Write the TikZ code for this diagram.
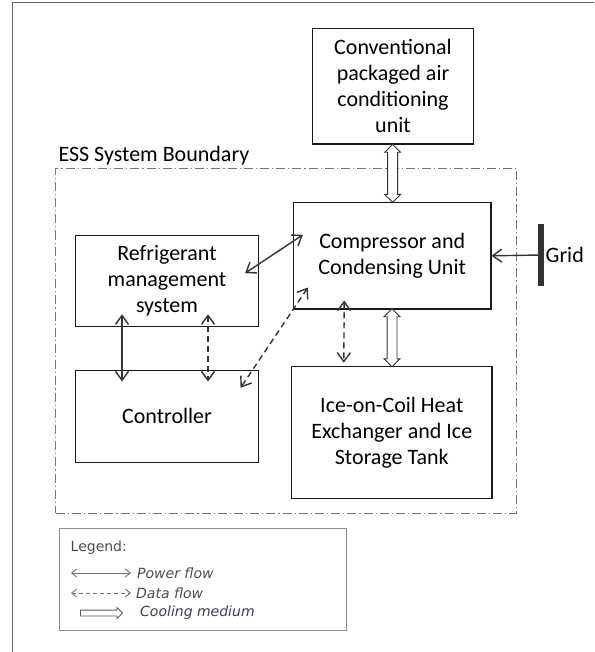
\documentclass[tikz,border=0pt]{standalone}
\usepackage{fontspec}
\setmainfont{Carlito}
\newfontfamily\legendfont{DejaVu Sans}
\usetikzlibrary{arrows.meta,calc,shapes.arrows}
\definecolor{coolink}{RGB}{55,58,95}

\begin{document}
\begin{tikzpicture}[x=1pt,y=-1pt]
\tikzset{box/.style={draw=black!90, line width=1.1pt, align=center, inner sep=0pt, font=\fontsize{22}{26}\selectfont},
	flow/.style={draw=black!80, line width=1.4pt, >={Straight Barb[length=9pt,width=13pt]}},
	power/.style={flow, <->},
	data/.style={power, dash pattern=on 6pt off 4pt},
	cool/.style={double arrow, draw=black!80, line width=0.9pt, fill=white, inner xsep=0pt, inner ysep=4.5pt,
		double arrow head extend=3pt, minimum height=58pt, rotate=90},
	legtext/.style={anchor=west, inner sep=0pt, text=black!70, font=\legendfont\fontsize{14}{16}\selectfont},
	legarrow/.style={draw=black!55, line width=0.9pt, >={Straight Barb[length=5pt,width=8pt]}, <->}}
\useasboundingbox (0,0) rectangle (594,652);
% outer frame
\draw[black!60, line width=1.5pt] (12.3,652) -- (12.3,2.7) -- (594,2.7);

% system boundary
\node[draw=black!55, line width=0.8pt, dash pattern=on 9pt off 3pt on 1.2pt off 3pt,
	minimum width=460.6pt, minimum height=345pt, inner sep=0pt] (ess) at (286,340.8) {};
\node[anchor=base west, inner sep=0pt, font=\fontsize{22}{26}\selectfont] (esslabel)
	at ($(ess.north west)+(3,-6)$) {ESS System Boundary};

% blocks
\node[box, minimum width=161pt, minimum height=115.7pt] (conv) at (393,86.2)
	{Conventional\\packaged air\\conditioning\\unit};
\node[box, minimum width=197.5pt, minimum height=106.3pt] (comp) at (392.2,255.8)
	{Compressor and\\Condensing Unit};
\node[box, minimum width=183pt, minimum height=91pt] (refr) at (167,281.2)
	{Refrigerant\\management\\system};
\node[box, minimum width=183pt, minimum height=92.3pt] (ctrl) at (167,416.2) {Controller};
\node[box, minimum width=200.3pt, minimum height=132pt] (ice) at (391.8,432.7)
	{Ice-on-Coil Heat\\Exchanger and Ice\\Storage Tank};

% grid
\node[fill=black!80, minimum width=5.5pt, minimum height=62pt, inner sep=0pt] (bar) at (541,255) {};
\node[anchor=west, inner sep=1.5pt, font=\fontsize{22}{26}\selectfont] (gridlabel) at (bar.east) {Grid};
\draw[flow, ->] (bar.center) -- (comp.east);

% flows
\path (conv.south) -- node[cool] {} (comp.north);
\path (comp.south) -- node[cool] {} (ice.north);
\draw[power] ($(refr.east)+(-14,-8)$) -- ($(comp.west)+(10,-21)$);
\draw[power] ($(refr.south)+(-45,-13)$) -- ($(ctrl.north)+(-45,12)$);
\draw[data] ($(refr.south)+(41,-13)$) -- ($(ctrl.north)+(41,12)$);
\draw[data] ($(comp.south west)+(15,-22)$) -- ($(ctrl.north east)+(-18.5,18.3)$);
\draw[data] ($(comp.south)+(-48,-9)$) -- ($(ice.north)+(-48,-3.4)$);

% legend
\node[draw=black!45, line width=1pt, minimum width=287.2pt, minimum height=102.7pt, inner sep=0pt] (legend) at (202.9,579.4) {};
\node[legtext] (legtitle) at (70.5,548) {Legend:};
\coordinate (pw1) at (71,573);
\coordinate (pw2) at (131,573);
\draw[legarrow] (pw1) -- (pw2);
\node[legtext] (pwtext) at (137,573) {\itshape Power flow};
\coordinate (dt1) at (71,593);
\coordinate (dt2) at (131,593);
\draw[legarrow, dash pattern=on 4pt off 3pt] (dt1) -- (dt2);
\node[legtext] (dttext) at (136,593) {\itshape Data flow};
\node[single arrow, draw=black!65, line width=0.8pt, inner xsep=0pt, inner ysep=2.5pt,
	single arrow head extend=2.5pt, minimum height=42pt] (clarrow) at (100,613) {};
\node[legtext, text=coolink] (cltext) at (140,613) {\itshape Cooling medium};
\end{tikzpicture}
\end{document}
